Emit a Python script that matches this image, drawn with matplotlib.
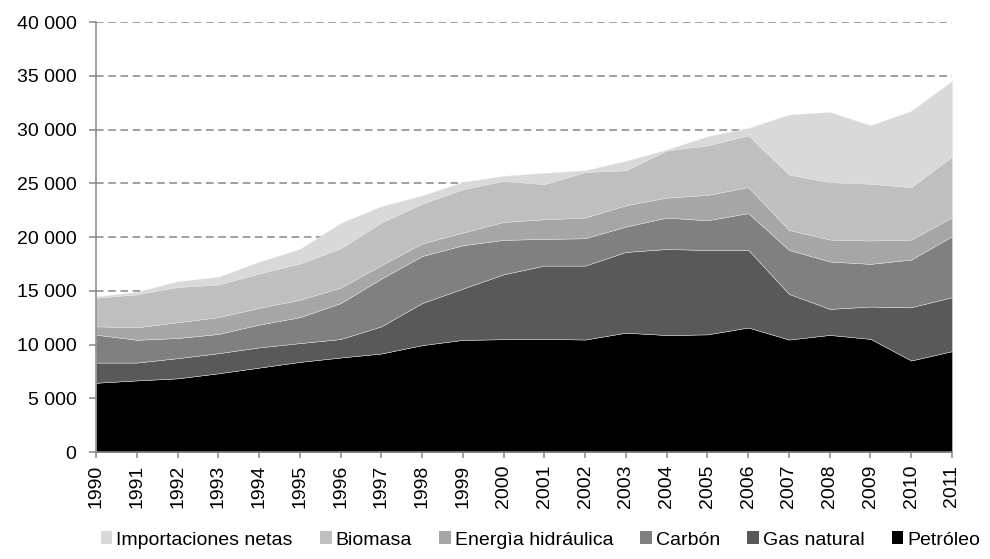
import matplotlib
matplotlib.use('Agg')
import matplotlib.pyplot as plt
import matplotlib.patches as mpatches
from matplotlib.ticker import FuncFormatter, MultipleLocator

plt.rcParams['font.family'] = ['Liberation Sans', 'DejaVu Sans']

# --- Data (ktep por fuente, apiladas de abajo hacia arriba) ---
years = list(range(1990, 2012))

petroleo = [6460, 6680, 6870, 7340, 7870, 8400, 8810, 9180, 9960, 10450, 10510,
            10540, 10480, 11120, 10900, 10960, 11600, 10480, 10910, 10540, 8530, 9400]
gas_natural = [1880, 1660, 1880, 1870, 1880, 1750, 1720, 2530, 3910, 4770, 6040,
               6820, 6880, 7510, 8000, 7850, 7230, 4250, 2420, 3010, 4960, 5020]
carbon = [2590, 2120, 1870, 1790, 2120, 2410, 3340, 4440, 4380, 4030, 3200,
          2480, 2540, 2360, 2920, 2760, 3410, 4090, 4410, 3970, 4430, 5670]
hidraulica = [780, 1160, 1470, 1560, 1560, 1620, 1440, 1250, 1180, 1180, 1670,
              1830, 1930, 1980, 1860, 2360, 2420, 1860, 2040, 2170, 1860, 1770]
biomasa = [2660, 3060, 3280, 3030, 3190, 3380, 3650, 3970, 3690, 4030, 3820,
           3260, 4240, 3250, 4390, 4610, 4810, 5150, 5340, 5280, 4870, 5650]
importaciones = [120, 220, 530, 720, 1090, 1340, 2350, 1500, 750, 680, 460,
                 1050, 150, 880, 70, 840, 680, 5570, 6520, 5430, 7090, 7020]

series = [petroleo, gas_natural, carbon, hidraulica, biomasa, importaciones]
labels = ['Petróleo', 'Gas natural', 'Carbón', 'Energìa hidráulica', 'Biomasa',
          'Importaciones netas']
colors = ['#000000', '#595959', '#808080', '#A6A6A6', '#BFBFBF', '#D9D9D9']

AXIS_GREY = '#868686'

# --- Figure ---
fig = plt.figure(figsize=(9.9, 5.59), dpi=100)
ax = fig.add_axes([0.097, 0.191, 0.8646, 0.7694])

ax.stackplot(years, *series, colors=colors, edgecolor='#e6e6e6', linewidth=0.3,
             zorder=2)

ax.set_xlim(1990, 2011)
ax.set_ylim(0, 40000)
ax.yaxis.set_major_locator(MultipleLocator(5000))
ax.yaxis.set_major_formatter(FuncFormatter(lambda v, p: f'{int(v):,}'.replace(',', ' ')))
ax.set_xticks(years)
ax.set_xticklabels([str(y) for y in years], rotation=90)

ax.grid(axis='y', color=AXIS_GREY, linestyle=(0, (5, 3)), linewidth=1.1, zorder=0)
ax.set_axisbelow(True)

for s in ['top', 'right']:
    ax.spines[s].set_visible(False)
for s in ['left', 'bottom']:
    ax.spines[s].set_color(AXIS_GREY)
    ax.spines[s].set_linewidth(1.1)

ax.tick_params(axis='y', direction='out', length=5, width=1.1, color=AXIS_GREY,
               labelsize=14, pad=9)
ax.tick_params(axis='x', direction='out', length=4, width=1.1, color=AXIS_GREY,
               labelsize=14, pad=5)

# Legend at the bottom, lightest layer first
handles = [mpatches.Patch(facecolor=c, label=l) for c, l in zip(colors, labels)][::-1]
fig.legend(handles=handles, loc='center', bbox_to_anchor=(0.546, 0.034), ncol=6,
           frameon=False, fontsize=14, handlelength=0.6, handleheight=0.6,
           handletextpad=0.2, columnspacing=1.4, borderaxespad=0)

plt.savefig('out.png', dpi=100, facecolor='white')
plt.close()
